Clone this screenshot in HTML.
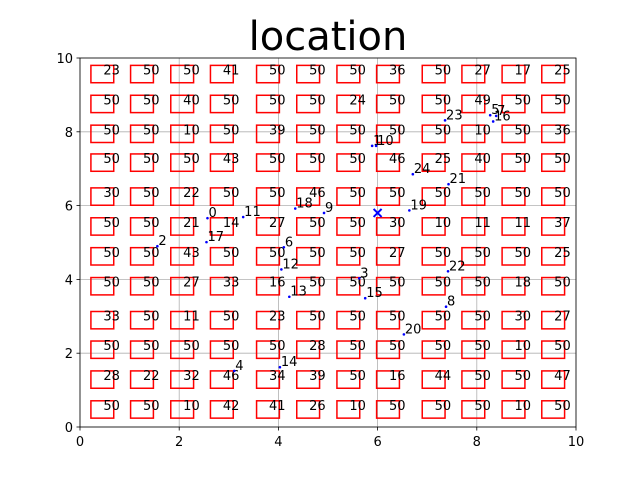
<!DOCTYPE html>
<html><head><meta charset="utf-8"><style>body{margin:0;background:#fff}svg{display:block}</style></head>
<body>
<svg id="chart" width="640" height="480" xmlns="http://www.w3.org/2000/svg" font-family="'DejaVu Sans','Liberation Sans',sans-serif">
<rect width="640" height="480" fill="#fff"/>
<text x="328" y="50" font-size="40" text-anchor="middle">location</text>
<g id="grid"></g><g id="cells"></g><g id="pts"></g><g id="axes"></g>
</svg>
<script>
const xTicks=[0,2,4,6,8,10];
const yTicks=[0,2,4,6,8,10];
const colX=[0.22,1.02,1.83,2.63,3.56,4.37,5.18,5.98,6.90,7.70,8.51,9.31];
const rowY=[9.80,8.99,8.18,7.40,6.48,5.67,4.86,4.05,3.13,2.33,1.52,0.71];
const cellValues=[
[23,50,50,41,50,50,50,36,50,27,17,25],
[50,50,40,50,50,50,24,50,50,49,50,50],
[50,50,10,50,39,50,50,50,50,10,50,36],
[50,50,50,43,50,50,50,46,25,40,50,50],
[30,50,22,50,50,46,50,50,50,50,50,50],
[50,50,21,14,27,50,50,30,10,11,11,37],
[50,50,43,50,50,50,50,27,50,50,50,25],
[50,50,27,33,16,50,50,50,50,50,18,50],
[33,50,11,50,23,50,50,50,50,50,30,27],
[50,50,50,50,50,28,50,50,50,50,10,50],
[28,22,32,46,34,39,50,16,44,50,50,47],
[50,50,10,42,41,26,10,50,50,50,10,50]];
const ptLabels=[0,1,2,3,4,5,6,7,8,9,10,11,12,13,14,15,16,17,18,19,20,21,22,23,24];
const ptX=[2.57,5.89,1.56,5.63,3.11,8.27,4.11,8.39,7.38,4.92,5.97,3.29,4.06,4.22,4.03,5.75,8.33,2.55,4.34,6.64,6.53,7.43,7.42,7.36,6.71];
const ptY=[5.66,7.62,4.90,4.03,1.52,8.45,4.87,8.43,3.26,5.80,7.62,5.69,4.27,3.53,1.62,3.49,8.28,5.01,5.92,5.87,2.51,6.58,4.22,8.31,6.85];
const markX=[6.0], markY=[5.80];
const L=80,R=576,T=58,B=427;
const sx=v=>L+(R-L)*v/10, sy=v=>B-(B-T)*v/10;
const NS='http://www.w3.org/2000/svg';
function mk(tag,parent,attrs){const e=document.createElementNS(NS,tag);for(const k in attrs)e.setAttribute(k,attrs[k]);parent.appendChild(e);return e;}
const g=document.getElementById('grid'),c=document.getElementById('cells'),p=document.getElementById('pts'),a=document.getElementById('axes');
xTicks.forEach(t=>{const l=mk('line',g,{x1:sx(t),x2:sx(t),y1:T,y2:B,stroke:'#b0b0b0','stroke-width':0.8});


const tk=mk('line',a,{x1:sx(t),x2:sx(t),y1:B,y2:B+3.5,stroke:'#000','stroke-width':0.8});


const tx=mk('text',a,{x:sx(t),y:B+19,'font-size':13,'text-anchor':'middle'});tx.textContent=t;

});
yTicks.forEach(t=>{const l=mk('line',g,{x1:L,x2:R,y1:sy(t),y2:sy(t),stroke:'#b0b0b0','stroke-width':0.8});


const tk=mk('line',a,{x1:L-3.5,x2:L,y1:sy(t),y2:sy(t),stroke:'#000','stroke-width':0.8});


const tx=mk('text',a,{x:L-7,y:sy(t)+5,'font-size':13,'text-anchor':'end'});tx.textContent=t;

});
const fr=mk('rect',a,{x:L,y:T,width:R-L,height:B-T,fill:'none',stroke:'#000','stroke-width':0.8});


const cw=0.46*(R-L)/10, ch=0.47*(B-T)/10;
rowY.forEach((yv,r)=>colX.forEach((xv,ci)=>{
const x0=sx(xv),y0=sy(yv);
const rc=mk('rect',c,{x:x0,y:y0,width:cw,height:ch,fill:'none',stroke:'#f00','stroke-width':1.5});


const tx=mk('text',c,{x:x0+cw/2+1,y:y0+ch/2+0.5,'font-size':13,fill:'#000'});tx.textContent=cellValues[r][ci];

}));
ptLabels.forEach((lb,i)=>{const x=sx(ptX[i]),y=sy(ptY[i]);
const d=mk('circle',p,{cx:x,cy:y,r:1.3,fill:'#00f'});


const tx=mk('text',p,{x:x+1,y:y-1,'font-size':13});tx.textContent=lb;

});
markX.forEach((mx,i)=>{const x=sx(mx),y=sy(markY[i]);
const m=mk('path',p,{d:`M${x-4},${y-4}L${x+4},${y+4}M${x-4},${y+4}L${x+4},${y-4}`,stroke:'#00f','stroke-width':2});

});
</script>
</body></html>
